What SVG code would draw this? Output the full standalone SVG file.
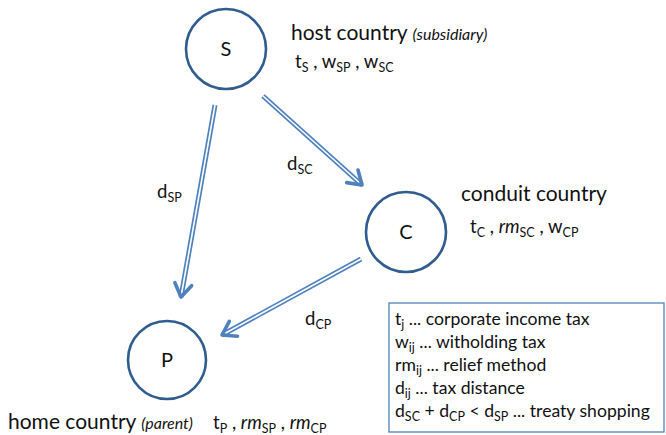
<svg xmlns="http://www.w3.org/2000/svg" width="666" height="435" viewBox="0 0 666 435">
  <style>
    text { font-family: Lato, "Liberation Sans", sans-serif; fill: #111; }
    .node { fill: #fff; stroke: #2f5d8f; stroke-width: 2.6; }
    .nlabel { font-size: 20px; text-anchor: middle; }
    .title { font-size: 21px; }
    .note { font-size: 16px; font-style: italic; }
    .vars { font-size: 18.5px; }
    .sub { font-size: 12.5px; }
    .rail { fill: none; stroke: #4f81bd; stroke-width: 5; }
    .gap { fill: none; stroke: #fff; stroke-width: 1.6; marker-end: url(#chevron); }
    .dlabel { font-size: 18.5px; }
    .legend-box { fill: #fff; stroke: #4f81bd; stroke-width: 1.3; }
    .legend { font-size: 17.6px; }
  </style>
  <defs>
    <marker id="chevron" markerUnits="userSpaceOnUse" markerWidth="30" markerHeight="30" refX="0" refY="0" orient="auto" overflow="visible">
      <path d="M -13 -8.5 L 0 0 L -13 8.5" fill="none" stroke="#4f81bd" stroke-width="3.6" stroke-linecap="round" stroke-linejoin="round"/>
    </marker>
  </defs>

  <!-- connectors: double-line arrows -->
  <g id="connectors">
    <g id="edge-S-P">
      <path class="rail" d="M 215 105 L 181 297"/>
      <path class="gap" d="M 215 105 L 181 297"/>
    </g>
    <g id="edge-S-C">
      <path class="rail" d="M 263 96 L 362 185"/>
      <path class="gap" d="M 263 96 L 362 185"/>
    </g>
    <g id="edge-C-P">
      <path class="rail" d="M 361 259 L 222 335"/>
      <path class="gap" d="M 361 259 L 222 335"/>
    </g>
    <text class="dlabel" x="157" y="198">d<tspan class="sub" dy="4">SP</tspan></text>
    <text class="dlabel" x="287" y="170">d<tspan class="sub" dy="4">SC</tspan></text>
    <text class="dlabel" x="305" y="325">d<tspan class="sub" dy="4">CP</tspan></text>
  </g>

  <!-- S: host country -->
  <g id="node-S">
    <circle class="node" cx="226" cy="49" r="40"/>
    <text class="nlabel" x="226" y="56">S</text>
    <text class="title" x="291" y="40">host country <tspan class="note">(subsidiary)</tspan></text>
    <text class="vars" x="295" y="68">t<tspan class="sub" dy="4">S</tspan><tspan dy="-4"> , w</tspan><tspan class="sub" dy="4">SP</tspan><tspan dy="-4"> , w</tspan><tspan class="sub" dy="4">SC</tspan></text>
  </g>

  <!-- C: conduit country -->
  <g id="node-C">
    <circle class="node" cx="406" cy="232" r="40"/>
    <text class="nlabel" x="406" y="239">C</text>
    <text class="title" x="461" y="201">conduit country</text>
    <text class="vars" x="470" y="233">t<tspan class="sub" dy="4">C</tspan><tspan dy="-4"> , </tspan><tspan font-style="italic">rm</tspan><tspan class="sub" dy="4">SC</tspan><tspan dy="-4"> , w</tspan><tspan class="sub" dy="4">CP</tspan></text>
  </g>

  <!-- P: home country -->
  <g id="node-P">
    <circle class="node" cx="167" cy="360" r="39"/>
    <text class="nlabel" x="167" y="367">P</text>
    <text class="title" x="8" y="429">home country <tspan class="note">(parent)</tspan></text>
    <text class="vars" x="213" y="429">t<tspan class="sub" dy="4">P</tspan><tspan dy="-4"> , </tspan><tspan font-style="italic">rm</tspan><tspan class="sub" dy="4">SP</tspan><tspan dy="-4"> , </tspan><tspan font-style="italic">rm</tspan><tspan class="sub" dy="4">CP</tspan></text>
  </g>

  <!-- legend -->
  <g id="legend">
    <rect class="legend-box" x="389" y="303" width="275" height="129"/>
    <text class="legend" x="395" y="325">t<tspan class="sub" dy="4">j</tspan><tspan dy="-4"> ... corporate income tax</tspan></text>
    <text class="legend" x="395" y="348">w<tspan class="sub" dy="4">ij</tspan><tspan dy="-4"> ... witholding tax</tspan></text>
    <text class="legend" x="395" y="371">rm<tspan class="sub" dy="4">ij</tspan><tspan dy="-4"> ... relief method</tspan></text>
    <text class="legend" x="395" y="394">d<tspan class="sub" dy="4">ij</tspan><tspan dy="-4"> ... tax distance</tspan></text>
    <text class="legend" x="395" y="417">d<tspan class="sub" dy="4">SC</tspan><tspan dy="-4"> + d</tspan><tspan class="sub" dy="4">CP</tspan><tspan dy="-4"> &lt; d</tspan><tspan class="sub" dy="4">SP</tspan><tspan dy="-4"> ... treaty shopping</tspan></text>
  </g>
</svg>
